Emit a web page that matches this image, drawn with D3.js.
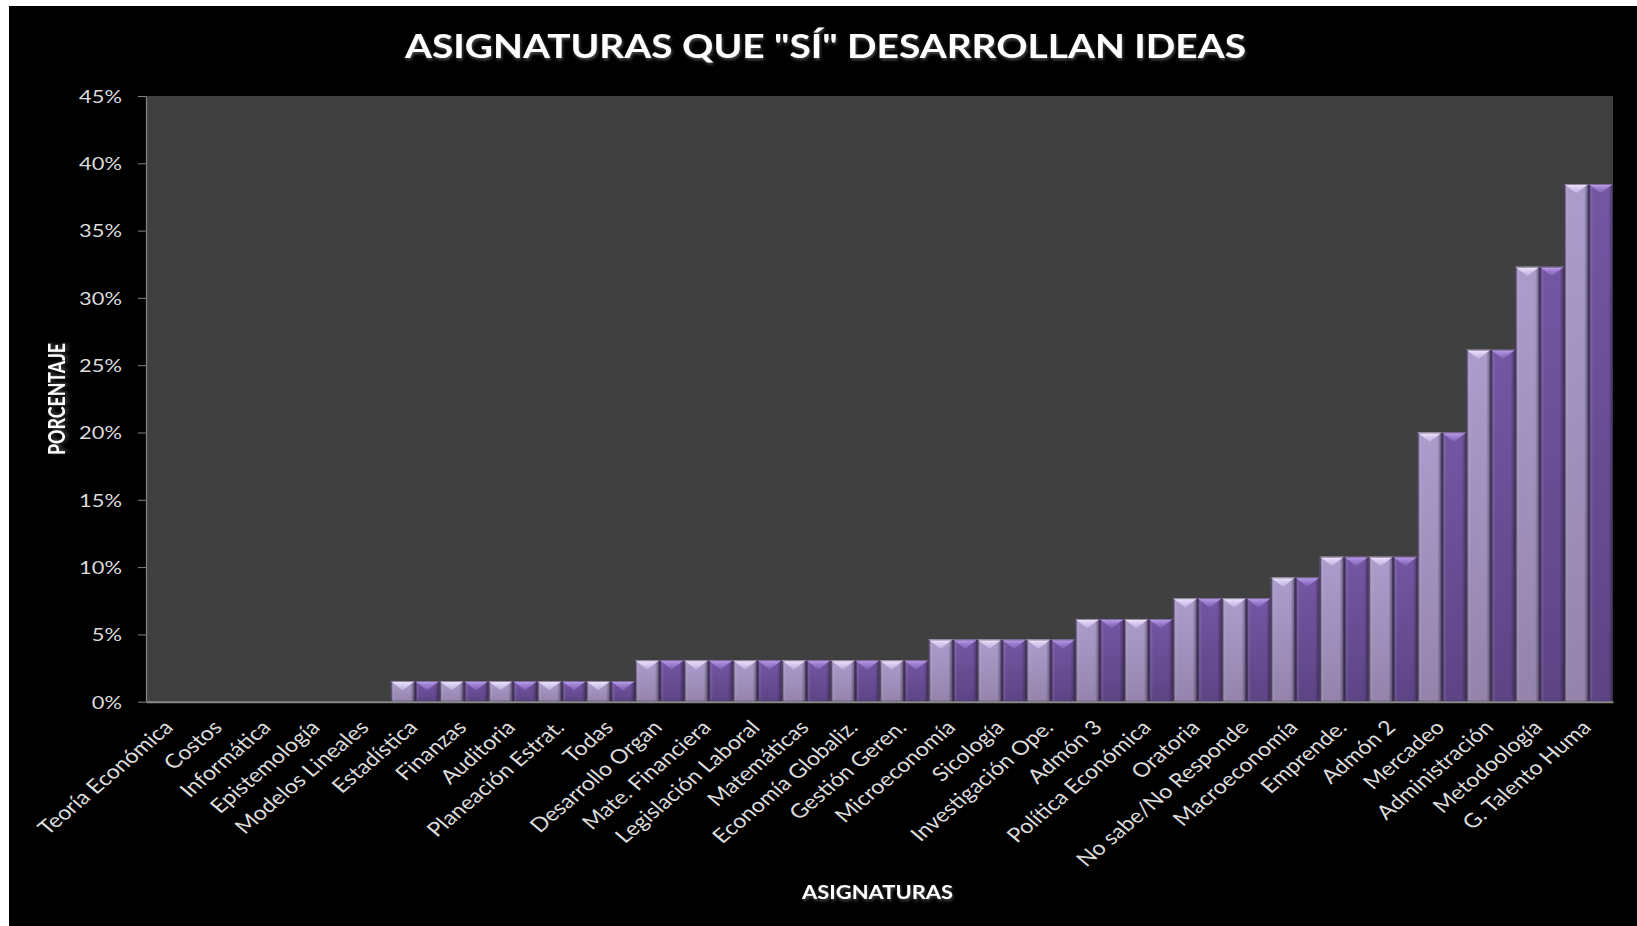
<!DOCTYPE html>
<html>
<head>
<meta charset="utf-8">
<script src="https://cdn.jsdelivr.net/npm/d3@7"></script>
<style>
  html, body { margin: 0; padding: 0; background: #ffffff; }
  svg { display: block; }
  text { font-family: Lato, "Open Sans", "DejaVu Sans", sans-serif; }
</style>
</head>
<body>
<svg id="chart" width="1637" height="926"></svg>
<script>
// Subjects (x axis categories)
const categories = [
  "Teoría Económica", "Costos", "Informática", "Epistemología", "Modelos Lineales",
  "Estadística", "Finanzas", "Auditoria", "Planeación Estrat.", "Todas",
  "Desarrollo Organ", "Mate. Financiera", "Legislación Laboral", "Matemáticas", "Economía Globaliz.",
  "Gestión Geren.", "Microeconomía", "Sicología", "Investigación Ope.", "Admón 3",
  "Política Económica", "Oratoria", "No sabe/No Responde", "Macroeconomía", "Emprende.",
  "Admón 2", "Mercadeo", "Administración", "Metodoología", "G. Talento Huma"
];

// Percentage of answers per subject (two series drawn side by side)
const seriesLight = [
  0, 0, 0, 0, 0,
  1.54, 1.54, 1.54, 1.54, 1.54,
  3.08, 3.08, 3.08, 3.08, 3.08,
  3.08, 4.62, 4.62, 4.62, 6.15,
  6.15, 7.69, 7.69, 9.23, 10.77,
  10.77, 20.0, 26.15, 32.31, 38.46
];
const seriesDark = [
  0, 0, 0, 0, 0,
  1.54, 1.54, 1.54, 1.54, 1.54,
  3.08, 3.08, 3.08, 3.08, 3.08,
  3.08, 4.62, 4.62, 4.62, 6.15,
  6.15, 7.69, 7.69, 9.23, 10.77,
  10.77, 20.0, 26.15, 32.31, 38.46
];

const yTicks = [0, 5, 10, 15, 20, 25, 30, 35, 40, 45];
const seriesNames = ["light", "dark"];

const chartTitle = "ASIGNATURAS QUE \"SÍ\" DESARROLLAN IDEAS";
const yTitle = "PORCENTAJE";
const xTitle = "ASIGNATURAS";

// ---- layout ----
const W = 1637, H = 926;
const plot = { left: 146, right: 1613, top: 96, bottom: 701.7 };
const SX = 1.25;   // horizontal stretch of the lettering

const svg = d3.select("#chart");
const defs = svg.append("defs");

function linGrad(id, x2, y2, stops) {
  const g = defs.append("linearGradient").attr("id", id)
    .attr("x1", 0).attr("y1", 0).attr("x2", x2).attr("y2", y2);
  stops.forEach(s => g.append("stop").attr("offset", s[0]).attr("stop-color", s[1])
    .attr("stop-opacity", s[2] === undefined ? 1 : s[2]));
}
linGrad("bodyLight", 0, 1, [[0, "#ac9ccc"], [1, "#9484ac"]]);
linGrad("bodyDark", 0, 1, [[0, "#7456a3"], [1, "#5d4485"]]);
linGrad("sideShade", 1, 0, [
  [0, "#2a2038", 0.75], [0.06, "#2a2038", 0.35], [0.13, "#ffffff", 0.06],
  [0.2, "#ffffff", 0], [0.82, "#000000", 0], [0.92, "#2a2038", 0.3], [1, "#2a2038", 0.75]
]);
linGrad("topLight", 0, 1, [[0, "#f6f0ff"], [0.3, "#e0d4f4"], [1, "#bcaeda"]]);
linGrad("topDark", 0, 1, [[0, "#ccb2f6"], [0.3, "#a688da"], [1, "#7e5eb0"]]);

const shadow = defs.append("filter").attr("id", "txtShadow")
  .attr("x", "-5%").attr("y", "-20%").attr("width", "110%").attr("height", "160%");
shadow.append("feDropShadow").attr("dx", 1).attr("dy", 2).attr("stdDeviation", 1.5)
  .attr("flood-color", "#808080").attr("flood-opacity", 0.6);

// chart frame
svg.append("rect").attr("x", 9).attr("y", 6).attr("width", W - 9).attr("height", H - 6)
  .attr("fill", "#000000");

// plot area
svg.append("rect")
  .attr("x", plot.left).attr("y", plot.top)
  .attr("width", plot.right - plot.left).attr("height", plot.bottom - plot.top)
  .attr("fill", "#404040");

// ---- scales ----
const x0 = d3.scaleBand().domain(categories).range([plot.left, plot.right]).padding(0);
const x1 = d3.scaleBand().domain(seriesNames).range([0, x0.bandwidth()]).padding(0);
const y = d3.scaleLinear().domain([0, 45]).range([plot.bottom, plot.top]);

// ---- bars ----
const rows = categories.map((c, i) => ({
  cat: c,
  values: [{ s: "light", v: seriesLight[i] }, { s: "dark", v: seriesDark[i] }]
}));

const groups = svg.append("g").selectAll("g").data(rows).join("g")
  .attr("transform", d => `translate(${x0(d.cat)},0)`);

const bars = groups.selectAll("g.bar").data(d => d.values.filter(v => v.v > 0)).join("g")
  .attr("class", "bar");

bars.append("rect")
  .attr("x", d => x1(d.s)).attr("y", d => y(d.v))
  .attr("width", x1.bandwidth()).attr("height", d => y(0) - y(d.v))
  .attr("fill", d => d.s === "light" ? "url(#bodyLight)" : "url(#bodyDark)");

bars.append("rect")
  .attr("x", d => x1(d.s)).attr("y", d => y(d.v))
  .attr("width", x1.bandwidth()).attr("height", d => y(0) - y(d.v))
  .attr("fill", "url(#sideShade)");

// bevelled top face
bars.append("path")
  .attr("d", d => {
    const xa = x1(d.s), xb = xa + x1.bandwidth(), yt = y(d.v);
    const depth = x1.bandwidth() * 0.38;
    return `M${xa},${yt}L${xb},${yt}L${(xa + xb) / 2},${yt + depth}Z`;
  })
  .attr("fill", d => d.s === "light" ? "url(#topLight)" : "url(#topDark)");

// outline
bars.append("rect")
  .attr("x", d => x1(d.s) + 0.5).attr("y", d => y(d.v) + 0.5)
  .attr("width", x1.bandwidth() - 1).attr("height", d => y(0) - y(d.v) - 1)
  .attr("fill", "none").attr("stroke", "#3a3048").attr("stroke-opacity", 0.55).attr("stroke-width", 1);

// ---- axes ----
const yAxis = svg.append("g").attr("transform", `translate(${plot.left},0)`)
  .call(d3.axisLeft(y).tickValues(yTicks).tickFormat(d => d + "%").tickSize(8).tickSizeOuter(0));
yAxis.select(".domain").attr("stroke", "#868686").attr("stroke-width", 1.2);
yAxis.selectAll(".tick line").attr("stroke", "#868686");
yAxis.selectAll(".tick text")
  .attr("x", null).attr("dy", "0.36em")
  .attr("transform", `translate(-24,0) scale(${SX},1)`)
  .attr("text-anchor", "end")
  .attr("fill", "#dcdcdc").style("font-size", "17.5px")
  .style("font-family", "Lato, 'Open Sans', sans-serif");

const xAxis = svg.append("g").attr("transform", `translate(0,${plot.bottom})`)
  .call(d3.axisBottom(x0).tickSize(0).tickSizeOuter(0));
xAxis.select(".domain").attr("stroke", "#8a8a8a").attr("stroke-width", 2);
xAxis.selectAll(".tick text")
  .attr("y", null).attr("dy", null)
  .attr("transform", `translate(4,27) scale(1.18,1) rotate(-45)`)
  .attr("text-anchor", "end")
  .attr("fill", "#dcdcdc").style("font-size", "19.8px")
  .style("font-family", "Lato, 'Open Sans', sans-serif");

// ---- titles ----
svg.append("text")
  .attr("x", 405).attr("y", 58)
  .attr("textLength", 841).attr("lengthAdjust", "spacingAndGlyphs")
  .attr("fill", "#ffffff").attr("font-weight", "bold").style("font-size", "31.5px")
  .attr("filter", "url(#txtShadow)")
  .text(chartTitle);

svg.append("text")
  .attr("transform", `translate(65,399) scale(${SX},1) rotate(-90)`)
  .attr("text-anchor", "middle")
  .attr("textLength", 112).attr("lengthAdjust", "spacingAndGlyphs")
  .attr("fill", "#ffffff").attr("font-weight", "bold").style("font-size", "19px")
  .attr("filter", "url(#txtShadow)")
  .text(yTitle);

svg.append("text")
  .attr("x", 802).attr("y", 898.5)
  .attr("textLength", 151).attr("lengthAdjust", "spacingAndGlyphs")
  .attr("fill", "#ffffff").attr("font-weight", "bold").style("font-size", "18.5px")
  .attr("filter", "url(#txtShadow)")
  .text(xTitle);
</script>
</body>
</html>
